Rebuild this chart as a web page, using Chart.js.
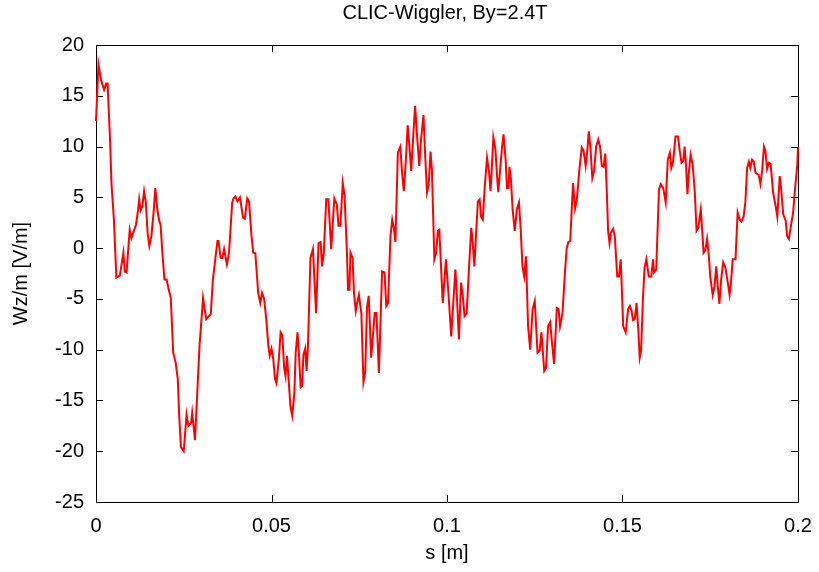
<!DOCTYPE html>
<html>
<head>
<meta charset="utf-8">
<script src="https://cdn.jsdelivr.net/npm/chart.js@4.4.1/dist/chart.umd.min.js"></script>
<style>
  html, body { margin: 0; padding: 0; background: #fff; }
  #wrap { width: 819px; height: 572px; position: relative; }
</style>
</head>
<body>
<div id="wrap"><canvas id="chart"></canvas></div>
<script>
// values
const chartTitle = 'CLIC-Wiggler, By=2.4T';
const xTitle = 's [m]';
const yTitle = 'Wz/m [V/m]';
const xTicks = [0, 0.05, 0.1, 0.15, 0.2];
const yTicks = [-25, -20, -15, -10, -5, 0, 5, 10, 15, 20];

// s [m]
const sPos = [
  0.0000, 0.0007, 0.0014, 0.0023, 0.0029, 0.0033, 0.0040, 0.0044, 0.0051, 0.0058,
  0.0068, 0.0078, 0.0082, 0.0087, 0.0096, 0.0101, 0.0114, 0.0120, 0.0123, 0.0127,
  0.0132, 0.0137, 0.0142, 0.0147, 0.0152, 0.0158, 0.0164, 0.0169, 0.0175, 0.0180,
  0.0184, 0.0189, 0.0195, 0.0201, 0.0206, 0.0213, 0.0220, 0.0227, 0.0233, 0.0237,
  0.0242, 0.0250, 0.0258, 0.0263, 0.0271, 0.0274, 0.0282, 0.0295, 0.0305, 0.0314,
  0.0327, 0.0333, 0.0346, 0.0349, 0.0355, 0.0360, 0.0365, 0.0373, 0.0379, 0.0388,
  0.0392, 0.0397, 0.0403, 0.0410, 0.0419, 0.0424, 0.0431, 0.0436, 0.0443, 0.0448,
  0.0454, 0.0462, 0.0468, 0.0473, 0.0479, 0.0485, 0.0491, 0.0495, 0.0500, 0.0505,
  0.0510, 0.0514, 0.0521, 0.0526, 0.0531, 0.0536, 0.0540, 0.0544, 0.0550, 0.0554,
  0.0559, 0.0565, 0.0569, 0.0574, 0.0578, 0.0583, 0.0587, 0.0591, 0.0596, 0.0600,
  0.0604, 0.0611, 0.0618, 0.0627, 0.0634, 0.0640, 0.0644, 0.0649, 0.0656, 0.0662,
  0.0670, 0.0679, 0.0686, 0.0691, 0.0696, 0.0703, 0.0708, 0.0715, 0.0718, 0.0722,
  0.0725, 0.0731, 0.0735, 0.0740, 0.0744, 0.0749, 0.0756, 0.0762, 0.0767, 0.0772,
  0.0777, 0.0784, 0.0794, 0.0799, 0.0806, 0.0815, 0.0822, 0.0827, 0.0832, 0.0839,
  0.0844, 0.0849, 0.0853, 0.0860, 0.0867, 0.0872, 0.0877, 0.0883, 0.0888, 0.0893,
  0.0898, 0.0904, 0.0909, 0.0914, 0.0921, 0.0926, 0.0933, 0.0937, 0.0943, 0.0948,
  0.0953, 0.0957, 0.0964, 0.0969, 0.0974, 0.0978, 0.0988, 0.0997, 0.1004, 0.1012,
  0.1016, 0.1024, 0.1029, 0.1034, 0.1040, 0.1045, 0.1050, 0.1056, 0.1062, 0.1069,
  0.1073, 0.1078, 0.1083, 0.1088, 0.1093, 0.1097, 0.1102, 0.1107, 0.1114, 0.1120,
  0.1124, 0.1127, 0.1132, 0.1138, 0.1142, 0.1146, 0.1152, 0.1157, 0.1161, 0.1167,
  0.1171, 0.1175, 0.1178, 0.1182, 0.1187, 0.1193, 0.1199, 0.1205, 0.1210, 0.1215,
  0.1220, 0.1225, 0.1231, 0.1237, 0.1244, 0.1250, 0.1258, 0.1264, 0.1269, 0.1277,
  0.1282, 0.1288, 0.1294, 0.1298, 0.1305, 0.1313, 0.1318, 0.1322, 0.1329, 0.1336,
  0.1341, 0.1346, 0.1351, 0.1359, 0.1365, 0.1370, 0.1377, 0.1384, 0.1389, 0.1395,
  0.1400, 0.1404, 0.1409, 0.1414, 0.1419, 0.1425, 0.1431, 0.1436, 0.1441, 0.1446,
  0.1451, 0.1455, 0.1459, 0.1463, 0.1467, 0.1473, 0.1478, 0.1485, 0.1490, 0.1495,
  0.1502, 0.1509, 0.1516, 0.1521, 0.1526, 0.1530, 0.1535, 0.1540, 0.1545, 0.1549,
  0.1553, 0.1558, 0.1563, 0.1568, 0.1575, 0.1582, 0.1587, 0.1590, 0.1596, 0.1604,
  0.1609, 0.1616, 0.1623, 0.1629, 0.1635, 0.1639, 0.1644, 0.1651, 0.1658, 0.1663,
  0.1668, 0.1673, 0.1677, 0.1681, 0.1685, 0.1689, 0.1694, 0.1700, 0.1706, 0.1711,
  0.1716, 0.1723, 0.1727, 0.1731, 0.1736, 0.1741, 0.1746, 0.1750, 0.1757, 0.1762,
  0.1767, 0.1771, 0.1776, 0.1781, 0.1787, 0.1793, 0.1800, 0.1805, 0.1809, 0.1814,
  0.1822, 0.1828, 0.1834, 0.1839, 0.1845, 0.1850, 0.1855, 0.1860, 0.1864, 0.1869,
  0.1874, 0.1879, 0.1888, 0.1893, 0.1898, 0.1903, 0.1907, 0.1912, 0.1917, 0.1922,
  0.1929, 0.1936, 0.1941, 0.1948, 0.1952, 0.1958, 0.1965, 0.1969, 0.1974, 0.1979,
  0.1986, 0.1991, 0.1998, 0.2000
];

// Wz/m [V/m]
const wz = [
  12.5, 18.1, 16.6, 15.6, 16.2, 16.2, 10.7, 6.4, 2.8, -2.9,
  -2.7, -0.45, -2.3, -2.4, 1.8, 1.0, 2.3, 3.8, 4.8, 3.7,
  4.1, 5.6, 4.5, 1.5, 0.2, 1.2, 3.5, 5.9, 3.7, 2.7,
  2.3, -0.45, -3.1, -3.1, -3.9, -4.9, -10.3, -11.3, -12.9, -16.5,
  -19.6, -20.0, -16.4, -17.5, -17.2, -16.2, -18.9, -9.6, -4.9, -7.0,
  -6.5, -3.1, 0.7, 0.7, -0.95, -1.0, -0.1, -1.6, -0.45, 4.5,
  4.9, 5.1, 4.6, 5.0, 3.0, 2.9, 4.9, 4.6, 1.2, -0.45,
  -0.5, -4.4, -5.4, -4.4, -5.0, -7.0, -9.6, -10.6, -9.9, -10.9,
  -12.9, -13.3, -10.9, -8.3, -8.6, -11.8, -12.6, -10.6, -13.6, -15.6,
  -16.5, -14.3, -10.3, -8.3, -10.3, -13.7, -13.6, -10.5, -9.9, -12.1,
  -9.5, -0.95, -0.1, -6.4, 0.5, 0.6, -1.8, -0.45, 4.8, 4.8,
  -0.1, 4.9, 4.3, 2.2, 2.2, 6.4, 5.2, -0.45, -4.1, -4.1,
  -0.45, -1.0, -4.4, -6.2, -5.4, -4.6, -6.4, -13.2, -12.2, -5.9,
  -4.7, -10.8, -6.4, -6.4, -12.3, -2.3, -2.4, -5.7, -5.4, 1.2,
  2.8, 1.9, 0.6, 9.4, 10.0, 7.4, 5.6, 8.8, 12.1, 10.0,
  7.6, 11.1, 14.0, 11.4, 8.1, 10.7, 13.1, 9.7, 5.5, 6.3,
  9.5, 7.7, -1.1, -0.45, 1.7, 1.8, -5.4, -1.1, -4.4, -8.7,
  -6.4, -2.1, -5.4, -9.0, -3.4, -4.7, -6.7, -6.4, -2.4, 2.0,
  0.6, -1.8, 1.5, 4.6, 4.8, 3.1, 2.8, 5.8, 8.9, 7.4,
  5.6, 7.4, 10.9, 9.7, 7.4, 5.5, 8.0, 10.0, 11.2, 8.7,
  5.9, 5.9, 8.0, 6.8, 3.8, 1.7, 3.8, 4.5, 1.8, -1.8,
  -2.8, -0.8, -7.7, -10.0, -6.0, -5.2, -10.3, -10.1, -8.3, -12.1,
  -11.8, -7.7, -7.3, -8.9, -11.4, -5.9, -6.0, -7.7, -6.4, -2.4,
  0.0, 0.6, 0.7, 6.4, 3.9, 4.8, 7.7, 9.9, 9.6, 8.1,
  9.7, 11.5, 9.7, 6.9, 7.6, 10.0, 10.7, 10.0, 8.1, 8.0,
  9.3, 5.8, 1.7, 0.5, 1.5, 1.9, 1.2, -2.8, -2.8, -1.1,
  -7.7, -8.3, -6.0, -5.7, -6.2, -7.1, -7.0, -5.4, -8.0, -10.8,
  -10.1, -5.1, -1.9, -1.1, -2.8, -2.8, -1.1, -2.4, -2.1, 5.8,
  6.3, 5.9, 4.5, 8.7, 9.4, 7.9, 8.5, 11.0, 11.0, 9.6,
  8.4, 8.6, 10.0, 8.1, 5.3, 7.4, 9.2, 8.2, 5.5, 1.7,
  2.0, 3.8, 1.8, -0.45, -0.2, 0.9, -0.8, -2.8, -4.6, -3.8,
  -1.8, -3.6, -5.5, -3.1, -1.4, -1.9, -3.4, -4.6, -3.4, -1.1,
  -1.1, 3.5, 2.8, 2.6, 3.1, 4.5, 7.9, 8.5, 7.9, 8.7,
  8.5, 7.4, 7.2, 6.3, 7.7, 10.0, 9.6, 7.8, 8.4, 8.3,
  5.5, 4.2, 3.1, 7.1, 5.8, 3.3, 2.7, 1.2, 0.9, 2.0,
  3.5, 5.6, 8.2, 9.9
];

const FONT = 'Liberation Sans, Arial, Helvetica, sans-serif';

// gnuplot-like frame with inward ticks on all four sides, plus title
const framePlugin = {
  id: 'frame',
  beforeDatasetsDraw(chart) {
    const ctx = chart.ctx;
    const a = chart.chartArea;
    const xs = chart.scales.x, ys = chart.scales.y;
    const tl = 7;
    ctx.save();
    ctx.strokeStyle = '#000';
    ctx.lineWidth = 1;
    ctx.beginPath();
    ctx.rect(Math.round(a.left) + 0.5, Math.round(a.top) + 0.5,
             Math.round(a.right - a.left), Math.round(a.bottom - a.top));
    xTicks.forEach(v => {
      const px = Math.round(xs.getPixelForValue(v)) + 0.5;
      ctx.moveTo(px, a.bottom); ctx.lineTo(px, a.bottom - tl);
      ctx.moveTo(px, a.top); ctx.lineTo(px, a.top + tl);
    });
    yTicks.forEach(v => {
      const py = Math.round(ys.getPixelForValue(v)) + 0.5;
      ctx.moveTo(a.left, py); ctx.lineTo(a.left + tl, py);
      ctx.moveTo(a.right, py); ctx.lineTo(a.right - tl, py);
    });
    ctx.stroke();

    ctx.fillStyle = '#000';
    ctx.font = '20px ' + FONT;
    ctx.textAlign = 'center';
    ctx.textBaseline = 'middle';
    ctx.fillText(chartTitle, (a.left + a.right) / 2 - 2, 13);
    ctx.restore();
  }
};

new Chart(document.getElementById('chart'), {
  type: 'scatter',
  data: {
    datasets: [{
      data: sPos.map((s, i) => ({ x: s, y: wz[i] })),
      showLine: true,
      borderColor: '#ff0000',
      borderWidth: 2,
      pointRadius: 0,
      tension: 0,
      fill: false,
      clip: 4
    }]
  },
  options: {
    responsive: true,
    maintainAspectRatio: false,
    animation: false,
    layout: { padding: { top: 45, right: 21, left: 0, bottom: 0 } },
    plugins: {
      legend: { display: false },
      tooltip: { enabled: false }
    },
    scales: {
      x: {
        type: 'linear',
        min: 0, max: 0.2,
        afterBuildTicks: s => { s.ticks = xTicks.map(v => ({ value: v })); },
        afterFit: s => { s.height = 70; s.paddingLeft = 0; s.paddingRight = 0; },
        grid: { display: false, drawTicks: false },
        border: { display: false },
        ticks: {
          padding: 12,
          color: '#000',
          font: { family: FONT, size: 20 },
          maxRotation: 0,
          callback: v => String(+v.toFixed(2))
        },
        title: {
          display: true, text: xTitle, color: '#000',
          font: { family: FONT, size: 20 },
          padding: { top: 0, bottom: 7 }
        }
      },
      y: {
        min: -25, max: 20,
        afterBuildTicks: s => { s.ticks = yTicks.map(v => ({ value: v })); },
        afterFit: s => { s.width = 96; s.paddingTop = 0; s.paddingBottom = 0; },
        grid: { display: false, drawTicks: false },
        border: { display: false },
        ticks: {
          padding: 12,
          color: '#000',
          font: { family: FONT, size: 20 }
        },
        title: {
          display: true, text: yTitle, color: '#000',
          font: { family: FONT, size: 20 },
          padding: { top: 9, bottom: 0 }
        }
      }
    }
  },
  plugins: [framePlugin]
});
</script>
</body>
</html>
